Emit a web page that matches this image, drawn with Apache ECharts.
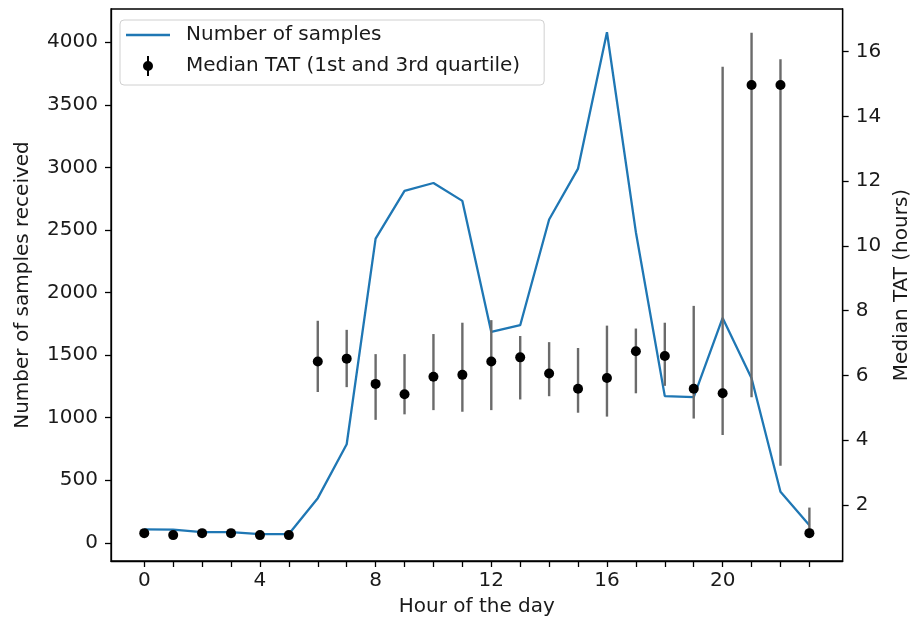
<!DOCTYPE html>
<html>
<head>
<meta charset="utf-8">
<script src="https://cdn.jsdelivr.net/npm/echarts@6/dist/echarts.min.js"></script>
<style>
html,body{margin:0;padding:0;background:#fff;}
#chart{width:920px;height:626px;}
</style>
</head>
<body>
<div id="chart"></div>
<script>
const hours = [0,1,2,3,4,5,6,7,8,9,10,11,12,13,14,15,16,17,18,19,20,21,22,23];
const samples = [107,105,85,85,70,70,357,788,2431,2812,2875,2732,1685,1739,2583,2990,4079,2482,1172,1164,1797,1315,408,141];
const tatMedian = [1.13,1.07,1.13,1.13,1.07,1.07,6.43,6.52,5.74,5.42,5.96,6.02,6.43,6.56,6.06,5.59,5.92,6.75,6.60,5.59,5.45,14.97,14.97,1.13];
const tatQ1 = [1.05,1.00,1.05,1.05,1.00,1.00,5.49,5.64,4.63,4.80,4.93,4.88,4.93,5.26,5.36,4.85,4.73,5.45,5.68,4.67,4.16,5.33,3.21,1.02];
const tatQ3 = [1.20,1.14,1.20,1.20,1.14,1.14,7.69,7.41,6.66,6.66,7.28,7.63,7.71,7.22,7.03,6.85,7.54,7.45,7.63,8.15,15.54,16.59,15.77,1.92];

const xLabelTicks = [0,4,8,12,16,20];
const leftTicks = [0,500,1000,1500,2000,2500,3000,3500,4000];
const rightTicks = [2,4,6,8,10,12,14,16];

const lineName = 'Number of samples';
const errName = 'Median TAT (1st and 3rd quartile)';

const chart = echarts.init(document.getElementById('chart'), null, {renderer:'canvas'});
const FONT = 'DejaVu Sans';
const txt = '#1a1a1a';

const option = {
  animation: false,
  backgroundColor: '#fff',
  textStyle: {fontFamily: FONT},
  grid: {left: 111, right: 68, top: 9, bottom: 65, show: true, borderColor: '#000', borderWidth: 1.3, backgroundColor: 'transparent'},
  legend: {
    orient: 'vertical',
    left: 120, top: 20,
    padding: [5, 24, 9, 6],
    itemGap: 11,
    itemWidth: 44, itemHeight: 20,
    symbolKeepAspect: true,
    borderColor: '#d0d0d0', borderWidth: 1, borderRadius: 4,
    backgroundColor: '#fff',
    textStyle: {fontFamily: FONT, fontSize: 20, color: txt, padding: [0,0,0,11]},
    data: [
      {name: lineName, icon: 'path://M0,0 L44,0 L44,2.3 L0,2.3 Z'},
      {name: errName, icon: 'path://M9,0 L11,0 L11,20 L9,20 Z M10,5 A5,5 0 1,1 10,15 A5,5 0 1,1 10,5 Z', itemStyle: {color: '#000'}}
    ]
  },
  xAxis: {
    type: 'value', min: -1.15, max: 24.15,
    name: 'Hour of the day', nameLocation: 'middle', nameGap: 36,
    nameTextStyle: {fontFamily: FONT, fontSize: 20, color: txt},
    axisLine: {show: true, onZero: false, lineStyle: {color: '#000', width: 1.3}},
    axisTick: {show: true, length: 6, lineStyle: {color: '#000', width: 1.3}, customValues: hours},
    axisLabel: {fontFamily: FONT, fontSize: 20, color: txt, margin: 10, customValues: xLabelTicks},
    splitLine: {show: false}
  },
  yAxis: [
    {
      type: 'value', min: -145, max: 4265, position: 'left',
      name: 'Number of samples received', nameLocation: 'middle', nameGap: 78,
      nameTextStyle: {fontFamily: FONT, fontSize: 20, color: txt},
      axisLine: {show: true, onZero: false, lineStyle: {color: '#000', width: 1.3}},
      axisTick: {show: true, length: 6, lineStyle: {color: '#000', width: 1.3}, customValues: leftTicks},
      axisLabel: {fontFamily: FONT, fontSize: 20, color: txt, margin: 13, customValues: leftTicks,
                  formatter: function (v) { return String(v); }},
      splitLine: {show: false}
    },
    {
      type: 'value', min: 0.27, max: 17.32, position: 'right',
      name: 'Median TAT (hours)', nameLocation: 'middle', nameGap: 47, nameRotate: 90,
      nameTextStyle: {fontFamily: FONT, fontSize: 20, color: txt},
      axisLine: {show: true, onZero: false, lineStyle: {color: '#000', width: 1.3}},
      axisTick: {show: true, length: 6, lineStyle: {color: '#000', width: 1.3}, customValues: rightTicks},
      axisLabel: {fontFamily: FONT, fontSize: 20, color: txt, margin: 13, customValues: rightTicks,
                  formatter: function (v) { return String(v); }},
      splitLine: {show: false}
    }
  ],
  series: [
    {
      name: lineName, type: 'line', yAxisIndex: 0,
      data: hours.map((h, i) => [h, samples[i]]),
      symbol: 'none', showSymbol: false,
      lineStyle: {color: '#1f77b4', width: 2.3},
      itemStyle: {color: '#1f77b4'},
      z: 2
    },
    {
      name: errName, type: 'custom', yAxisIndex: 1,
      itemStyle: {color: '#000'},
      data: hours.map((h, i) => [h, tatMedian[i], tatQ1[i], tatQ3[i]]),
      encode: {x: 0, y: [1, 2, 3]},
      renderItem: function (params, api) {
        const x = api.value(0);
        const m = api.coord([x, api.value(1)]);
        const lo = api.coord([x, api.value(2)]);
        const hi = api.coord([x, api.value(3)]);
        return {
          type: 'group',
          children: [
            {type: 'line', shape: {x1: lo[0], y1: lo[1], x2: hi[0], y2: hi[1]}, style: {stroke: '#6b6b6b', lineWidth: 2.4}},
            {type: 'circle', shape: {cx: m[0], cy: m[1], r: 5}, style: {fill: '#000'}}
          ]
        };
      },
      z: 3
    }
  ]
};
chart.setOption(option);
</script>
</body>
</html>
